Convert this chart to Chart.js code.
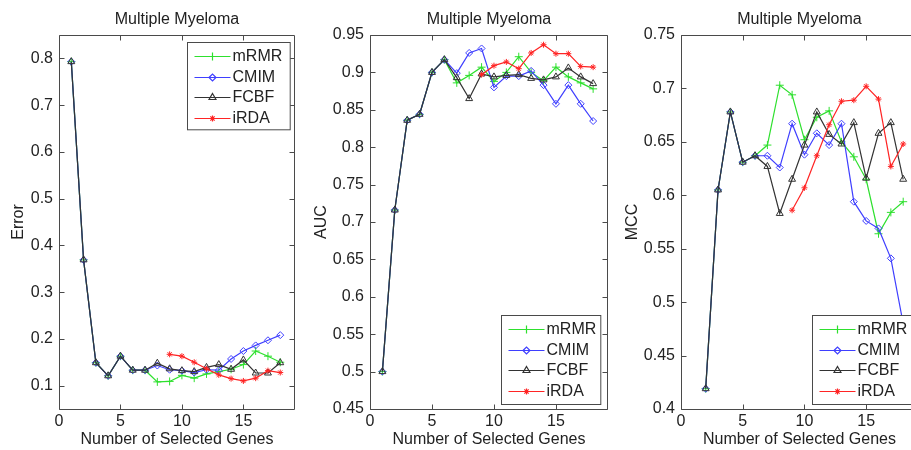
<!DOCTYPE html>
<html lang="en">
<head>
  <meta charset="UTF-8" />
  <title>Multiple Myeloma</title>
  <script src="https://cdn.jsdelivr.net/npm/chart.js"></script>
  <style>
    html, body { margin: 0; padding: 0; background: #fff; width: 911px; height: 450px; overflow: hidden; }
    .panel { position: absolute; top: 0; }
  </style>
</head>
<body>
  <canvas class="panel" id="errChart" width="303" height="450" style="left:0"></canvas>
  <canvas class="panel" id="aucChart" width="310" height="450" style="left:303px"></canvas>
  <canvas class="panel" id="mccChart" width="310" height="450" style="left:613px"></canvas>

  <script>
    // data
    const genes = [1, 2, 3, 4, 5, 6, 7, 8, 9, 10, 11, 12, 13, 14, 15, 16, 17, 18];
    const methodNames = ["mRMR", "CMIM", "FCBF", "iRDA"];
    const xTicks = [0, 5, 10, 15];

    const errTicks = [0.1, 0.2, 0.3, 0.4, 0.5, 0.6, 0.7, 0.8];
    const errMRMR = [0.793, 0.369, 0.149, 0.121, 0.163, 0.133, 0.133, 0.108, 0.109, 0.122, 0.116, 0.125, 0.130, 0.135, 0.145, 0.174, 0.163, 0.150];
    const errCMIM = [0.793, 0.369, 0.149, 0.121, 0.163, 0.133, 0.133, 0.143, 0.134, 0.132, 0.128, 0.134, 0.133, 0.157, 0.174, 0.186, 0.197, 0.208];
    const errFCBF = [0.793, 0.369, 0.149, 0.121, 0.163, 0.133, 0.133, 0.148, 0.136, 0.132, 0.130, 0.139, 0.145, 0.135, 0.155, 0.127, 0.127, 0.149];
    const errIRDA = [null, null, null, null, null, null, null, null, 0.167, 0.163, 0.150, 0.136, 0.123, 0.115, 0.110, 0.116, 0.132, 0.128];

    const aucTicks = [0.45, 0.5, 0.55, 0.6, 0.65, 0.7, 0.75, 0.8, 0.85, 0.9, 0.95];
    const aucMRMR = [0.5, 0.716, 0.836, 0.844, 0.9, 0.917, 0.886, 0.896, 0.907, 0.888, 0.9, 0.921, 0.9, 0.889, 0.907, 0.894, 0.886, 0.878];
    const aucCMIM = [0.5, 0.716, 0.836, 0.844, 0.9, 0.917, 0.899, 0.926, 0.932, 0.880, 0.895, 0.895, 0.902, 0.883, 0.858, 0.883, 0.858, 0.835];
    const aucFCBF = [0.5, 0.716, 0.836, 0.844, 0.9, 0.917, 0.893, 0.865, 0.898, 0.894, 0.896, 0.897, 0.892, 0.890, 0.894, 0.906, 0.894, 0.885];
    const aucIRDA = [null, null, null, null, null, null, null, null, 0.897, 0.909, 0.914, 0.905, 0.926, 0.937, 0.925, 0.925, 0.908, 0.907];

    const mccTicks = [0.4, 0.45, 0.5, 0.55, 0.6, 0.65, 0.7, 0.75];
    const mccMRMR = [null, 0.419, 0.605, 0.678, 0.631, 0.637, 0.647, 0.703, 0.694, 0.652, 0.673, 0.679, 0.650, 0.636, 0.615, 0.564, 0.584, 0.594];
    const mccCMIM = [null, 0.419, 0.605, 0.678, 0.631, 0.637, 0.637, 0.626, 0.667, 0.638, 0.658, 0.647, 0.667, 0.594, 0.576, 0.569, 0.541, 0.480];
    const mccFCBF = [null, 0.419, 0.605, 0.678, 0.631, 0.637, 0.627, 0.583, 0.615, 0.647, 0.678, 0.657, 0.648, 0.668, 0.616, 0.658, 0.668, 0.615];
    const mccIRDA = [null, null, null, null, null, null, null, null, 0.586, 0.607, 0.637, 0.666, 0.688, 0.689, 0.702, 0.690, 0.627, 0.648];

    const FONT = "'Liberation Sans', Arial, sans-serif";
    const INK = "#222";
    const AXIS = "#4a4a4a";

    // marker / colour per method (same order as methodNames)
    const styles = [
      { color: "#2ee02e", point: "cross", radius: 4, order: 3 },
      { color: "#3f3fff", point: "rectRot", radius: 3.5, order: 2 },
      { color: "#333333", point: "triangle", radius: 4, order: 1 },
      { color: "#ff2424", point: "star", radius: 3, order: 0 }
    ];

    function framePlugin(p) {
      return {
        id: "frame",
        afterDatasetsDraw(chart) {
          const { ctx, chartArea: a, scales: { x, y } } = chart;
          const L = Math.round(a.left) + 0.5, R = Math.round(a.right) - 0.5;
          const T = Math.round(a.top) + 0.5, B = Math.round(a.bottom) + 0.5;
          ctx.save();
          ctx.strokeStyle = AXIS;
          ctx.lineWidth = 1;
          ctx.beginPath();
          ctx.rect(L, T, R - L, B - T);
          // inward tick marks on all four sides
          xTicks.forEach(v => {
            const px = Math.round(x.getPixelForValue(v)) + 0.5;
            ctx.moveTo(px, B); ctx.lineTo(px, B - 5);
            ctx.moveTo(px, T); ctx.lineTo(px, T + 5);
          });
          p.yTicks.forEach(v => {
            const py = Math.round(y.getPixelForValue(v)) + 0.5;
            ctx.moveTo(L, py); ctx.lineTo(L + 5, py);
            ctx.moveTo(R, py); ctx.lineTo(R - 5, py);
          });
          ctx.stroke();

          // title
          ctx.fillStyle = INK;
          ctx.font = "16px " + FONT;
          ctx.textAlign = "center";
          ctx.textBaseline = "middle";
          ctx.fillText("Multiple Myeloma", (a.left + a.right) / 2, 19.5);

          // legend box
          const bx = Math.round(a.left + p.legend.dx) + 0.5;
          const by = Math.round(a.top + p.legend.dy) + 0.5;
          ctx.fillStyle = "#fff";
          ctx.fillRect(bx, by, p.legend.w, p.legend.h);
          ctx.strokeStyle = AXIS;
          ctx.strokeRect(bx, by, p.legend.w, p.legend.h);
          ctx.textAlign = "left";
          methodNames.forEach((name, i) => {
            const st = styles[i];
            const ly = Math.round(by + 13.5 + i * 20.6) + 0.5;
            ctx.strokeStyle = st.color;
            ctx.fillStyle = "rgba(0,0,0,0)";
            ctx.lineWidth = 1.2;
            ctx.beginPath();
            ctx.moveTo(bx + 7, ly);
            ctx.lineTo(bx + 43, ly);
            ctx.stroke();
            Chart.helpers.drawPoint(ctx, { pointStyle: st.point, radius: st.radius, rotation: 0, borderWidth: 1 }, bx + 25, ly);
            ctx.fillStyle = INK;
            ctx.fillText(name, bx + 45, ly + 0.5);
          });
          ctx.restore();
        }
      };
    }

    function makePanel(id, p) {
      const datasets = p.series.map((vals, i) => ({
        label: methodNames[i],
        data: genes.map((g, k) => ({ x: g, y: vals[k] })),
        borderColor: styles[i].color,
        backgroundColor: "rgba(0,0,0,0)",
        borderWidth: 1.2,
        pointStyle: styles[i].point,
        pointRadius: styles[i].radius,
        pointBorderColor: styles[i].color,
        pointBackgroundColor: "rgba(0,0,0,0)",
        pointBorderWidth: 1,
        order: styles[i].order,
        tension: 0
      }));

      return new Chart(document.getElementById(id), {
        type: "line",
        data: { datasets },
        options: {
          responsive: false,
          animation: false,
          events: [],
          layout: { padding: { top: 35, right: p.padRight, bottom: 0, left: 0 } },
          plugins: { legend: { display: false }, tooltip: { enabled: false }, title: { display: false } },
          scales: {
            x: {
              type: "linear", min: 0, max: 19.2,
              afterBuildTicks: s => { s.ticks = xTicks.map(v => ({ value: v })); },
              afterFit: s => { s.height = 41; },
              grid: { display: false, drawTicks: false },
              border: { display: false },
              ticks: { padding: 3, color: INK, autoSkip: false, maxRotation: 0, font: { family: FONT, size: 16 }, callback: v => String(v) },
              title: { display: true, text: "Number of Selected Genes", color: INK, font: { family: FONT, size: 16 }, padding: { top: 0, bottom: 1 } }
            },
            y: {
              type: "linear", min: p.yMin, max: p.yMax,
              afterBuildTicks: s => { s.ticks = p.yTicks.map(v => ({ value: v })); },
              afterFit: s => { s.width = p.yAxisW; },
              grid: { display: false, drawTicks: false },
              border: { display: false },
              ticks: { padding: 6, color: INK, autoSkip: false, font: { family: FONT, size: 16 }, callback: v => String(+v.toFixed(2)) },
              title: { display: true, text: p.yTitle, color: INK, font: { family: FONT, size: 16 }, padding: { top: p.yTitlePad, bottom: 0 } }
            }
          }
        },
        plugins: [framePlugin(p)]
      });
    }

    makePanel("errChart", {
      series: [errMRMR, errCMIM, errFCBF, errIRDA],
      yMin: 0.05, yMax: 0.85, yTicks: errTicks, yTitle: "Error",
      yAxisW: 59, padRight: 8, yTitlePad: 9,
      legend: { dx: 128.3, dy: 6.7, w: 102.7, h: 87.3 }
    });

    makePanel("aucChart", {
      series: [aucMRMR, aucCMIM, aucFCBF, aucIRDA],
      yMin: 0.45, yMax: 0.95, yTicks: aucTicks, yTitle: "AUC",
      yAxisW: 67, padRight: 5, yTitlePad: 9,
      legend: { dx: 130.7, dy: 280, w: 99.3, h: 89 }
    });

    makePanel("mccChart", {
      series: [mccMRMR, mccCMIM, mccFCBF, mccIRDA],
      yMin: 0.4, yMax: 0.75, yTicks: mccTicks, yTitle: "MCC",
      yAxisW: 68, padRight: 5, yTitlePad: 10,
      legend: { dx: 130.7, dy: 280, w: 103, h: 89 }
    });
  </script>
</body>
</html>
